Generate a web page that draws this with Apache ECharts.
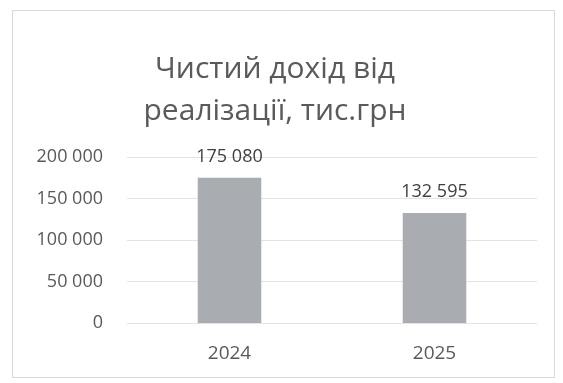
<!DOCTYPE html>
<html>
<head>
<meta charset="utf-8">
<script src="https://cdn.jsdelivr.net/npm/echarts@6/dist/echarts.min.js"></script>
<style>
  html, body { margin: 0; padding: 0; background: #fff; }
  #chart { width: 563px; height: 383px; }
</style>
</head>
<body>
<div id="chart"></div>
<script>
// дані з діаграми
const years = ['2024', '2025']
const income = [175080, 132595]
const yTicks = [0, 50000, 100000, 150000, 200000]

const fontFamily = '"Open Sans", "Noto Sans", sans-serif'

// 175080 -> "175 080"
function fmt(v) {
  return String(v).replace(/\B(?=(\d{3})+(?!\d))/g, ' ')
}

const chart = echarts.init(document.getElementById('chart'))

const option = {
  backgroundColor: '#ffffff',
  animation: false,
  title: {
    text: 'Чистий дохід від\nреалізації, тис.грн',
    left: 270,
    top: 43,
    textAlign: 'center',
    textStyle: {
      fontFamily: fontFamily,
      fontSize: 30,
      fontWeight: 'normal',
      color: '#5a5a5a',
      lineHeight: 42
    }
  },
  graphic: [
    {
      type: 'rect',
      shape: { x: 12.5, y: 10.5, width: 542, height: 367 },
      style: { fill: 'none', stroke: '#d9d9d9', lineWidth: 1 },
      silent: true
    }
  ],
  grid: {
    left: 127,
    right: 26,
    top: 157,
    bottom: 60
  },
  xAxis: {
    type: 'category',
    data: years,
    axisLine: { show: false },
    axisTick: { show: false },
    axisLabel: {
      fontFamily: fontFamily,
      fontSize: 19,
      color: '#595959',
      margin: 21
    }
  },
  yAxis: {
    type: 'value',
    min: yTicks[0],
    max: yTicks[yTicks.length - 1],
    interval: yTicks[1] - yTicks[0],
    axisLine: { show: false },
    axisTick: { show: false },
    axisLabel: {
      fontFamily: fontFamily,
      fontSize: 18,
      color: '#595959',
      margin: 24,
      formatter: (v) => fmt(v)
    },
    splitLine: {
      lineStyle: { color: '#e3e3e3', width: 1 }
    }
  },
  series: [
    {
      type: 'bar',
      data: income,
      barWidth: '31%',
      itemStyle: { color: '#a9acb0' },
      label: {
        show: true,
        position: 'top',
        distance: 12,
        fontFamily: fontFamily,
        fontSize: 18,
        color: '#404040',
        formatter: (p) => fmt(p.value)
      }
    }
  ]
}

chart.setOption(option)
</script>
</body>
</html>
